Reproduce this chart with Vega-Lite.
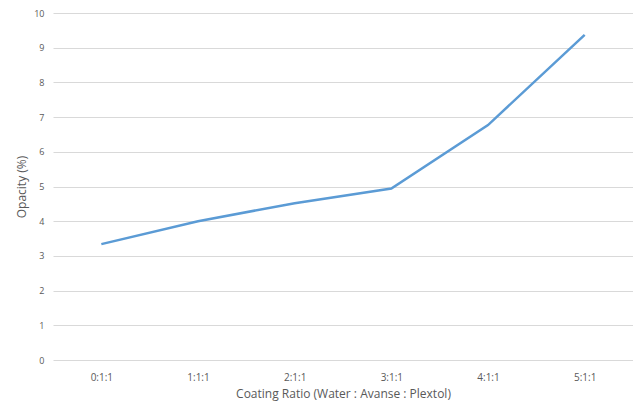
{
  "$schema": "https://vega.github.io/schema/vega-lite/v6.json",
  "width": 580,
  "height": 347,
  "autosize": {"type": "none"},
  "padding": {"left": 53, "top": 13, "right": 0, "bottom": 48},
  "background": "white",
  "data": {
    "values": [
      {"ratio": "0:1:1", "opacity": 3.34},
      {"ratio": "1:1:1", "opacity": 4.0},
      {"ratio": "2:1:1", "opacity": 4.52},
      {"ratio": "3:1:1", "opacity": 4.94},
      {"ratio": "4:1:1", "opacity": 6.77},
      {"ratio": "5:1:1", "opacity": 9.37}
    ]
  },
  "config": {
    "view": {"stroke": null},
    "axis": {
      "labelFont": "Open Sans",
      "titleFont": "Open Sans",
      "labelColor": "#595959",
      "titleColor": "#595959",
      "titleFontWeight": "normal",
      "domain": false,
      "ticks": false
    }
  },
  "mark": {"type": "line", "color": "#5B9BD5", "strokeWidth": 2.5},
  "encoding": {
    "x": {
      "field": "ratio",
      "type": "ordinal",
      "sort": null,
      "scale": {"type": "point", "padding": 0.5},
      "axis": {
        "title": "Coating Ratio (Water : Avanse : Plextol)",
        "labelAngle": 0,
        "labelFontSize": 10,
        "labelPadding": 12,
        "titleFontSize": 12,
        "titlePadding": 6,
        "grid": false
      }
    },
    "y": {
      "field": "opacity",
      "type": "quantitative",
      "scale": {"domain": [0, 10], "nice": false},
      "axis": {
        "title": "Opacity (%)",
        "values": [0, 1, 2, 3, 4, 5, 6, 7, 8, 9, 10],
        "labelFontSize": 9,
        "labelPadding": 9,
        "titleFontSize": 12,
        "titlePadding": 5,
        "grid": true,
        "gridColor": "#d9d9d9",
        "gridWidth": 1
      }
    }
  }
}
